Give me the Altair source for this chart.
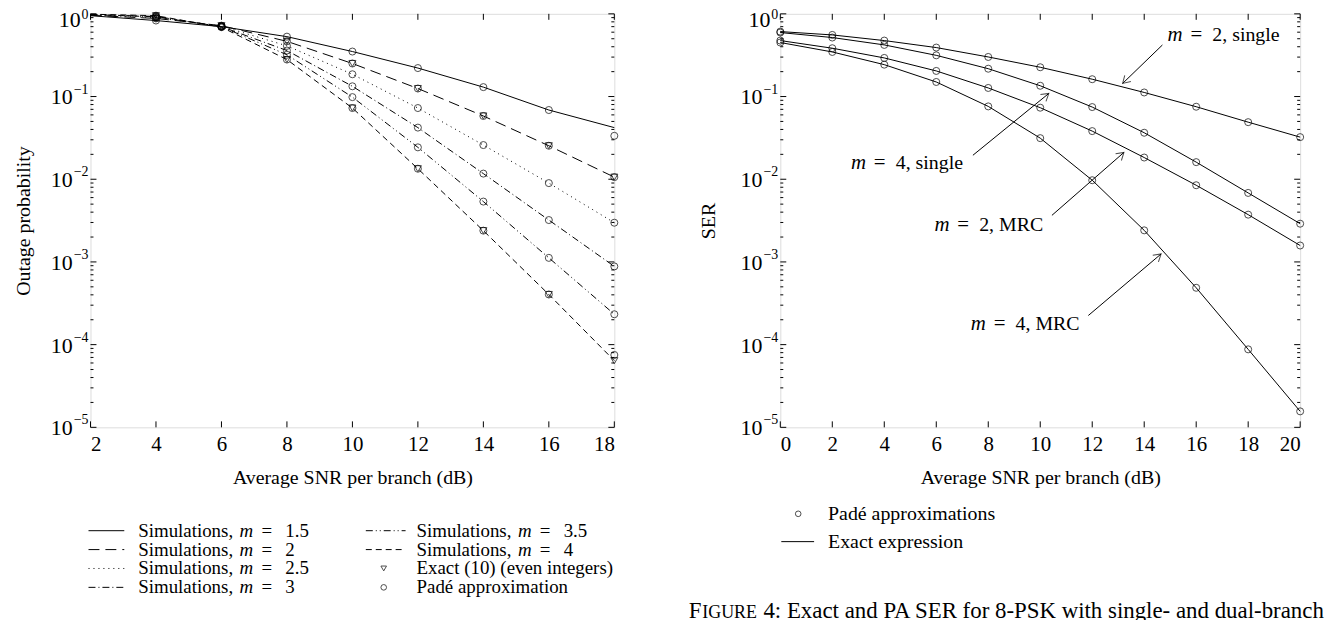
import math
import altair as alt
import pandas as pd

FONT = "Liberation Serif"
FS = 20
LEG_FS = 19
TICK_FS = 21

# ---------------- left panel: outage probability ----------------
snr_left = [2, 4, 6, 8, 10, 12, 14, 16, 18]
sim_m15 = [0.95, 0.83, 0.70, 0.53, 0.350, 0.221, 0.130, 0.0687, 0.0421]
sim_m2 = [0.96, 0.88, 0.72, 0.465, 0.251, 0.125, 0.0582, 0.0254, 0.0106]
sim_m25 = [0.97, 0.90, 0.71, 0.41, 0.186, 0.0726, 0.0259, 0.00898, 0.00298]
sim_m3 = [0.98, 0.92, 0.70, 0.36, 0.133, 0.0421, 0.0117, 0.00321, 0.000883]
sim_m35 = [0.98, 0.93, 0.70, 0.32, 0.0984, 0.0243, 0.00537, 0.00112, 0.000233]
sim_m4 = [0.99, 0.95, 0.69, 0.28, 0.0726, 0.0134, 0.00239, 0.000404, 0.000064]
m_labels = ["1.5", "2", "2.5", "3", "3.5", "4"]

marker_snr = [4, 6, 8, 10, 12, 14, 16, 18]
pade_m15 = [0.83, 0.70, 0.53, 0.350, 0.221, 0.130, 0.0687, 0.0335]
pade_m2 = [0.88, 0.72, 0.465, 0.251, 0.125, 0.0582, 0.0254, 0.0106]
pade_m25 = [0.90, 0.71, 0.41, 0.186, 0.0726, 0.0259, 0.00898, 0.00298]
pade_m3 = [0.92, 0.70, 0.36, 0.133, 0.0421, 0.0117, 0.00321, 0.000883]
pade_m35 = [0.93, 0.70, 0.32, 0.0984, 0.0243, 0.00537, 0.00112, 0.000233]
pade_m4 = [0.95, 0.69, 0.28, 0.0726, 0.0134, 0.00239, 0.000404, 0.000075]
exact_m2 = [0.88, 0.72, 0.465, 0.251, 0.125, 0.0582, 0.0254, 0.0106]
exact_m4 = [0.95, 0.69, 0.28, 0.0726, 0.0134, 0.00239, 0.000404, 0.000064]

left_extra_labels = ["Exact (10) (even integers)", "Padé approximation"]

# ---------------- right panel: SER of 8-PSK ----------------
snr_right = [0, 2, 4, 6, 8, 10, 12, 14, 16, 18, 20]
ser_m2_single = [0.61, 0.556, 0.475, 0.391, 0.301, 0.226, 0.162, 0.112, 0.0753, 0.049, 0.0323]
ser_m4_single = [0.594, 0.517, 0.421, 0.315, 0.217, 0.135, 0.0746, 0.0365, 0.0161, 0.00683, 0.0029]
ser_m2_mrc = [0.475, 0.384, 0.293, 0.204, 0.127, 0.0733, 0.0382, 0.0183, 0.00846, 0.00373, 0.00158]
ser_m4_mrc = [0.45, 0.346, 0.243, 0.150, 0.076, 0.0314, 0.00973, 0.00241, 0.000487, 0.0000877, 0.0000156]

ann_values = ["2, single", "4, single", "2, MRC", "4, MRC"]
ann_x = [14.9, 2.72, 5.93, 7.33]
ann_y = [0.55, 0.0158, 0.00283, 0.000178]
arrow_x0 = [14.7, 7.41, 10.45, 11.85]
arrow_y0 = [0.42, 0.0195, 0.00366, 0.000225]
arrow_x1 = [13.17, 10.33, 13.22, 14.65]
arrow_y1 = [0.144, 0.109, 0.0211, 0.00125]

right_legend_labels = ["Padé approximations", "Exact expression"]
caption_parts = ["F", "IGURE", "4: Exact and PA SER for 8-PSK with single- and dual-branch"]

# y tick labels: mantissa and exponent
decades = [1.0, 1e-1, 1e-2, 1e-3, 1e-4, 1e-5]
decade_exps = ["0", "−1", "−2", "−3", "−4", "−5"]

# ---------------- layout constants ----------------
W1, W2, H = 527, 523, 416
DASHES = [None, [11, 6], [1, 4], [7, 3, 1, 3], [7, 3, 1, 3, 1, 3], [6, 4]]

xs1 = alt.Scale(domain=[2, 18], nice=False, zero=False)
xs2 = alt.Scale(domain=[0, 20], nice=False, zero=False)
ys = alt.Scale(type="log", domain=[1e-5, 1], nice=False)

minor = [d * 10.0 ** k for k in range(-5, 0) for d in range(2, 10)]


def one():
    return pd.DataFrame({"k": [0]})


def xaxis(vals, title):
    return alt.Axis(values=vals, ticks=False, domain=False, grid=False, format="d",
                    labelFont=FONT, labelFontSize=TICK_FS, labelPadding=6, labelColor="black",
                    title=title, titleFont=FONT, titleFontSize=FS, titleFontWeight="normal",
                    titleColor="black", titleY=51, titleBaseline="middle")


def yaxis(title, tx):
    return alt.Axis(values=decades, ticks=False, domain=False, grid=False, labels=False,
                    title=title, titleFont=FONT, titleFontSize=FS, titleFontWeight="normal",
                    titleColor="black", titleX=tx, titleY=H / 2, titleAngle=270,
                    titleBaseline="top", titleAlign="center")


AX1 = xaxis(snr_left, "Average SNR per branch (dB)")
AY1 = yaxis("Outage probability", -77)
AX2 = xaxis(snr_right, "Average SNR per branch (dB)")
AY2 = yaxis("SER", -82)


def txt(t, x, y, size=LEG_FS, style="normal", align="left", baseline="middle"):
    return alt.Chart(one()).mark_text(text=t, font=FONT, fontSize=size, fontStyle=style,
                                      align=align, baseline=baseline, color="black").encode(
        x=alt.value(x), y=alt.value(y))


def tick_layers(xs, ax, ay, W, xvals):
    out = []
    dfx = pd.DataFrame({"v": xvals})
    for y0, y1 in [(H, H - 6), (0, 6)]:
        out.append(alt.Chart(dfx).mark_rule(color="black", strokeWidth=1).encode(
            x=alt.X("v:Q", scale=xs, axis=ax), y=alt.value(y0), y2=alt.value(y1)))
    for vals, L in [(decades, 6), (minor, 3)]:
        dfy = pd.DataFrame({"v": vals})
        for x0, x1 in [(0, L), (W, W - L)]:
            out.append(alt.Chart(dfy).mark_rule(color="black", strokeWidth=1).encode(
                y=alt.Y("v:Q", scale=ys, axis=ay), x=alt.value(x0), x2=alt.value(x1)))
    # y tick labels "10" with raised exponent (top label nudged down to stay on the page)
    lab = pd.DataFrame({"v": decades, "e": decade_exps})
    for cond, exp_dy, man_dy, man_dx in [("datum.v > 0.5", 1, 6, -10),
                                         ("datum.v < 0.5", -7, 1, -18)]:
        sub = alt.Chart(lab).transform_filter(cond)
        out.append(sub.mark_text(font=FONT, fontSize=14, align="right", baseline="middle",
                                 dx=-2, dy=exp_dy, color="black").encode(
            x=alt.value(0), y=alt.Y("v:Q", scale=ys, axis=ay), text="e:N"))
        out.append(sub.mark_text(text="10", font=FONT, fontSize=22, align="right",
                                 baseline="middle", dx=man_dx, dy=man_dy, color="black").encode(
            x=alt.value(0), y=alt.Y("v:Q", scale=ys, axis=ay)))
    return out


# ---------------- left chart ----------------
left_layers = []
sims = [sim_m15, sim_m2, sim_m25, sim_m3, sim_m35, sim_m4]
for i, vals in enumerate(sims):
    df = pd.DataFrame({"snr": snr_left, "p": vals})
    kw = dict(color="black", strokeWidth=1)
    if DASHES[i]:
        kw["strokeDash"] = DASHES[i]
    left_layers.append(alt.Chart(df).mark_line(**kw).encode(
        x=alt.X("snr:Q", scale=xs1, axis=AX1), y=alt.Y("p:Q", scale=ys, axis=AY1)))

pades = [pade_m15, pade_m2, pade_m25, pade_m3, pade_m35, pade_m4]
pade_df = pd.concat([pd.DataFrame({"snr": marker_snr, "p": v, "m": m_labels[i]})
                     for i, v in enumerate(pades)])
exact_df = pd.concat([pd.DataFrame({"snr": marker_snr, "p": v, "m": lab})
                      for v, lab in [(exact_m2, "2"), (exact_m4, "4")]])
left_layers.append(alt.Chart(exact_df).mark_point(shape="triangle-down", filled=False, size=50,
                                                  color="black", strokeWidth=1).encode(
    x=alt.X("snr:Q", scale=xs1, axis=AX1), y=alt.Y("p:Q", scale=ys, axis=AY1)))
left_layers.append(alt.Chart(pade_df).mark_point(shape="circle", filled=False, size=50,
                                                 color="black", strokeWidth=1).encode(
    x=alt.X("snr:Q", scale=xs1, axis=AX1), y=alt.Y("p:Q", scale=ys, axis=AY1)))
left_layers += tick_layers(xs1, AX1, AY1, W1, snr_left)

# left legend (2 columns x 4 rows)
rows_y = [520, 539, 558, 577]
col_sym = [(-2, 34), (277, 317)]
col_txt = [48, 328]
for i, lab in enumerate(m_labels):
    c, r = divmod(i, 4)
    y = rows_y[r]
    kw = dict(color="black", strokeWidth=1)
    if DASHES[i]:
        kw["strokeDash"] = DASHES[i]
    left_layers.append(alt.Chart(one()).mark_rule(**kw).encode(
        x=alt.value(col_sym[c][0]), x2=alt.value(col_sym[c][1]), y=alt.value(y)))
    tx = col_txt[c]
    left_layers.append(txt("Simulations,", tx, y))
    left_layers.append(txt("m", tx + 102, y, style="italic"))
    left_layers.append(txt("=", tx + 124, y))
    left_layers.append(txt(lab, tx + 148, y))
for j, (shape, lab) in enumerate(zip(["triangle-down", "circle"], left_extra_labels)):
    y = rows_y[2 + j]
    left_layers.append(alt.Chart(one()).mark_point(shape=shape, filled=False, size=32,
                                                   color="black", strokeWidth=1).encode(
        x=alt.value(295), y=alt.value(y)))
    left_layers.append(txt(lab, col_txt[1], y))

left = alt.layer(*left_layers).properties(width=W1, height=H)

# ---------------- right chart ----------------
right_layers = []
curves = [ser_m2_single, ser_m4_single, ser_m2_mrc, ser_m4_mrc]
curve_df = pd.concat([pd.DataFrame({"snr": snr_right, "p": v, "c": i}) for i, v in enumerate(curves)])
right_layers.append(alt.Chart(curve_df).mark_line(color="black", strokeWidth=1).encode(
    x=alt.X("snr:Q", scale=xs2, axis=AX2), y=alt.Y("p:Q", scale=ys, axis=AY2),
    detail="c:N"))
right_layers.append(alt.Chart(curve_df).mark_point(shape="circle", filled=False, size=50,
                                                   color="black", strokeWidth=1).encode(
    x=alt.X("snr:Q", scale=xs2, axis=AX2), y=alt.Y("p:Q", scale=ys, axis=AY2)))
right_layers += tick_layers(xs2, AX2, AY2, W2, snr_right)


def px2(x):
    return x / 20.0 * W2


def py(v):
    return -math.log10(v) / 5.0 * H


angles = []
for x0, y0, x1, y1 in zip(arrow_x0, arrow_y0, arrow_x1, arrow_y1):
    dx = px2(x1) - px2(x0)
    dy = py(y1) - py(y0)
    angles.append(math.degrees(math.atan2(dx, -dy)) % 360)

arrow_df = pd.DataFrame({"x0": arrow_x0, "y0": arrow_y0, "x1": arrow_x1, "y1": arrow_y1,
                         "ang": angles})
right_layers.append(alt.Chart(arrow_df).mark_rule(color="black", strokeWidth=1).encode(
    x=alt.X("x0:Q", scale=xs2, axis=AX2), y=alt.Y("y0:Q", scale=ys, axis=AY2),
    x2="x1:Q", y2="y1:Q"))
right_layers.append(alt.Chart(arrow_df).mark_point(
    shape="M-0.55,0.9L0,0L0.55,0.9", filled=False, size=260, color="black", strokeWidth=1).encode(
    x=alt.X("x1:Q", scale=xs2, axis=AX2), y=alt.Y("y1:Q", scale=ys, axis=AY2),
    angle=alt.Angle("ang:Q", scale=None)))

ann_df = pd.DataFrame({"x": ann_x, "y": ann_y, "t": ann_values})
for piece, dx, style, size in [("m", 0, "italic", 21), ("=", 23, "normal", 21), (None, 45, "normal", FS)]:
    mk = dict(font=FONT, fontSize=size, fontStyle=style, align="left", baseline="middle",
              color="black", dx=dx)
    if piece is not None:
        mk["text"] = piece
        enc = dict(x=alt.X("x:Q", scale=xs2, axis=AX2), y=alt.Y("y:Q", scale=ys, axis=AY2))
    else:
        enc = dict(x=alt.X("x:Q", scale=xs2, axis=AX2), y=alt.Y("y:Q", scale=ys, axis=AY2),
                   text="t:N")
    right_layers.append(alt.Chart(ann_df).mark_text(**mk).encode(**enc))

# right legend
right_layers.append(alt.Chart(one()).mark_point(shape="circle", filled=False, size=32,
                                                color="black", strokeWidth=1).encode(
    x=alt.value(18), y=alt.value(503)))
right_layers.append(txt(right_legend_labels[0], 48, 503, size=20))
right_layers.append(alt.Chart(one()).mark_rule(color="black", strokeWidth=1).encode(
    x=alt.value(1), x2=alt.value(34), y=alt.value(531)))
right_layers.append(txt(right_legend_labels[1], 48, 531, size=20))

# caption (small caps "FIGURE")
right_layers.append(txt(caption_parts[0], -92, 608, size=23, baseline="alphabetic"))
right_layers.append(txt(caption_parts[1], -78.5, 608, size=18, baseline="alphabetic"))
right_layers.append(txt(caption_parts[2], -17, 608, size=23, baseline="alphabetic"))

right = alt.layer(*right_layers).properties(width=W2, height=H)

chart = alt.hconcat(left, right, spacing=167, bounds="flush").properties(
    padding={"left": 5, "top": -3, "right": 0, "bottom": 0}
).configure_view(stroke="black", strokeWidth=1.2).configure(background="white")

chart.save("out.html", embed_options={"renderer": "svg", "actions": False})
